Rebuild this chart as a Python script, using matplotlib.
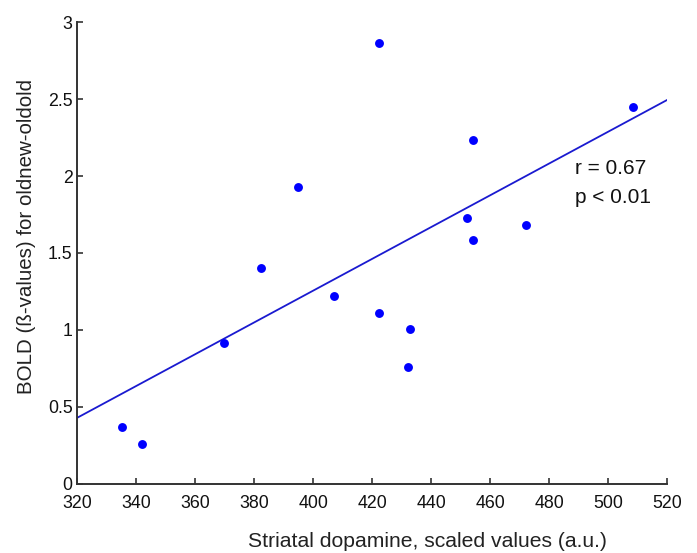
import numpy as np
import matplotlib.pyplot as plt
from matplotlib.ticker import FuncFormatter

plt.rcParams["font.family"] = ["Liberation Sans", "DejaVu Sans"]

# striatal dopamine (a.u.) vs BOLD beta values
dopamine = [335.0, 341.9, 369.7, 382.4, 394.9, 406.9, 422.2, 422.2,
            432.9, 432.0, 452.3, 454.1, 454.1, 472.1, 508.4]
bold = [0.37, 0.26, 0.914, 1.40, 1.93, 1.223, 2.866, 1.108,
        1.008, 0.762, 1.725, 2.232, 1.584, 1.68, 2.45]

# regression line end points
fit_x = [320, 520]
fit_y = [0.43, 2.494]

x_ticks = [320, 340, 360, 380, 400, 420, 440, 460, 480, 500, 520]
y_ticks = [0, 0.5, 1, 1.5, 2, 2.5, 3]

fig = plt.figure(figsize=(6.97, 5.53), dpi=100)
ax = fig.add_axes([0.111, 0.125, 0.846, 0.835])

ax.plot(fit_x, fit_y, color="#1a1ad0", linewidth=1.3, zorder=2)
ax.plot(dopamine, bold, "o", color="#0000ff", markersize=6.4,
        markeredgewidth=0, zorder=3)

ax.text(0.844, 0.671, "r = 0.67", transform=ax.transAxes, fontsize=15,
        va="baseline", color="#111111")
ax.text(0.844, 0.608, "p < 0.01", transform=ax.transAxes, fontsize=15,
        va="baseline", color="#111111")

ax.set_xlim(320, 520)
ax.set_ylim(0, 3)
ax.set_xticks(x_ticks)
ax.set_yticks(y_ticks)
ax.yaxis.set_major_formatter(FuncFormatter(lambda v, p: f"{v:g}"))

for side in ["top", "right"]:
    ax.spines[side].set_visible(False)
for side in ["left", "bottom"]:
    ax.spines[side].set_color("#333333")
    ax.spines[side].set_linewidth(1.4)

ax.tick_params(direction="in", length=4.5, width=1.2, color="#333333",
               labelsize=12.8, labelcolor="#111111")
ax.tick_params(axis="x", pad=8)
ax.tick_params(axis="y", pad=3.5)

ax.set_xlabel("Striatal dopamine, scaled values (a.u.)", fontsize=15.2,
              color="#222222")
ax.xaxis.set_label_coords(0.593, -0.105)
ax.set_ylabel("BOLD (ß-values) for oldnew-oldold", fontsize=14.8,
              color="#222222")
ax.yaxis.set_label_coords(-0.07, 0.535)

fig.savefig("out.png", dpi=100)
